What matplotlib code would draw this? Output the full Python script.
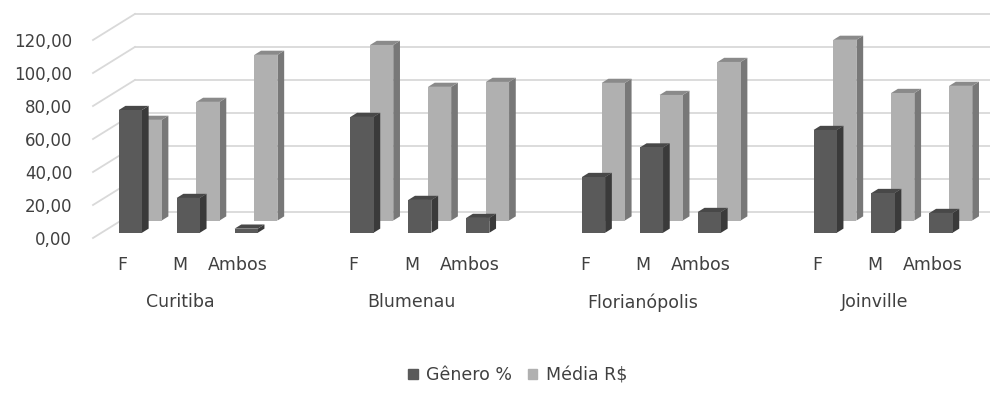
import matplotlib.pyplot as plt
from matplotlib.patches import Polygon, Patch

cidades = ["Curitiba", "Blumenau", "Florianópolis", "Joinville"]
generos = ["F", "M", "Ambos"]
genero_pct = [74.4, 21.1, 2.5,
              70.2, 19.9, 9.0,
              33.8, 51.7, 12.6,
              62.3, 24.1, 12.0]
media_rs = [61.0, 71.9, 100.4,
            106.4, 81.0, 84.0,
            83.4, 76.1, 96.1,
            109.5, 77.3, 81.6]
yticks = [0, 20, 40, 60, 80, 100, 120]

# oblique "3D" look: depth axis goes up and to the right
DX, DY = 0.725, 15.8      # full depth of the floor in (slot, value) units
BAR_W = 0.40
BAR_T = 0.16              # bar thickness in depth
GRID = "#d9d9d9"
TXT = "#404040"

series = [
    # name, values, depth of front face, front / side / top colour
    ("Média R$", media_rs, 0.67, "#b0b0b0", "#787878", "#8a8a8a"),
    ("Gênero %", genero_pct, 0.20, "#5a5a5a", "#3a3a3a", "#484848"),
]

# one blank slot between cities
slots = []
for g in range(len(cidades)):
    for k in range(len(generos)):
        slots.append(g * 4 + k)
nslots = slots[-1] + 1

fig = plt.figure(figsize=(9.9, 3.94), dpi=100)
ax = fig.add_axes([93 / 990, 156 / 394, 897 / 990, 140 * 1.65 / 394])
ax.set_xlim(-0.5, -0.5 + 897 / 57.9)
ax.set_ylim(0, 140)
for s in ax.spines.values():
    s.set_visible(False)

# walls: left side diagonals and back gridlines
xl, xr = -0.5, nslots - 0.5
for v in yticks:
    ax.plot([xl, xl + DX], [v, v + DY], color=GRID, lw=1.3, zorder=1, clip_on=False)
    ax.plot([xl + DX, xr + DX], [v + DY, v + DY], color=GRID, lw=1.3, zorder=1)


def draw_bar(c, h, d0, front, side, top, z):
    x0 = c - BAR_W / 2 + d0 * DX
    x1 = c + BAR_W / 2 + d0 * DX
    y0 = d0 * DY
    tx, ty = BAR_T * DX, BAR_T * DY
    ax.add_patch(Polygon([(x1, y0), (x1, y0 + h), (x1 + tx, y0 + h + ty), (x1 + tx, y0 + ty)],
                         closed=True, fc=side, ec="none", zorder=z))
    ax.add_patch(Polygon([(x0, y0 + h), (x1, y0 + h), (x1 + tx, y0 + h + ty), (x0 + tx, y0 + h + ty)],
                         closed=True, fc=top, ec="none", zorder=z))
    ax.bar(c + d0 * DX, h, bottom=y0, width=BAR_W, color=front, lw=0, zorder=z)


for i, (nome, vals, d0, front, side, top) in enumerate(series):
    for c, h in zip(slots, vals):
        draw_bar(c, h, d0, front, side, top, 2 + i)

ax.set_yticks(yticks)
ax.set_yticklabels([f"{v:.2f}".replace(".", ",") for v in yticks])
ax.set_xticks(slots)
ax.set_xticklabels(generos * len(cidades))
ax.tick_params(axis="y", length=0, pad=15, labelsize=12, labelcolor=TXT)
ax.tick_params(axis="x", length=0, pad=13, labelsize=12.5, labelcolor=TXT)

for g, nome in enumerate(cidades):
    grupo = slots[g * 3:(g + 1) * 3]
    ax.text(sum(grupo) / len(grupo), -39, nome, ha="center", va="center",
            fontsize=12.5, color=TXT, clip_on=False)

handles = [Patch(color="#5a5a5a", label="Gênero %"), Patch(color="#b0b0b0", label="Média R$")]
fig.legend(handles=handles, loc="center", bbox_to_anchor=(0.523, 0.048), ncol=2,
           frameon=False, fontsize=12.5, labelcolor=TXT, handlelength=0.55,
           handleheight=0.55, handletextpad=0.5, columnspacing=0.9)

fig.savefig("out.png", dpi=100, facecolor="white")
